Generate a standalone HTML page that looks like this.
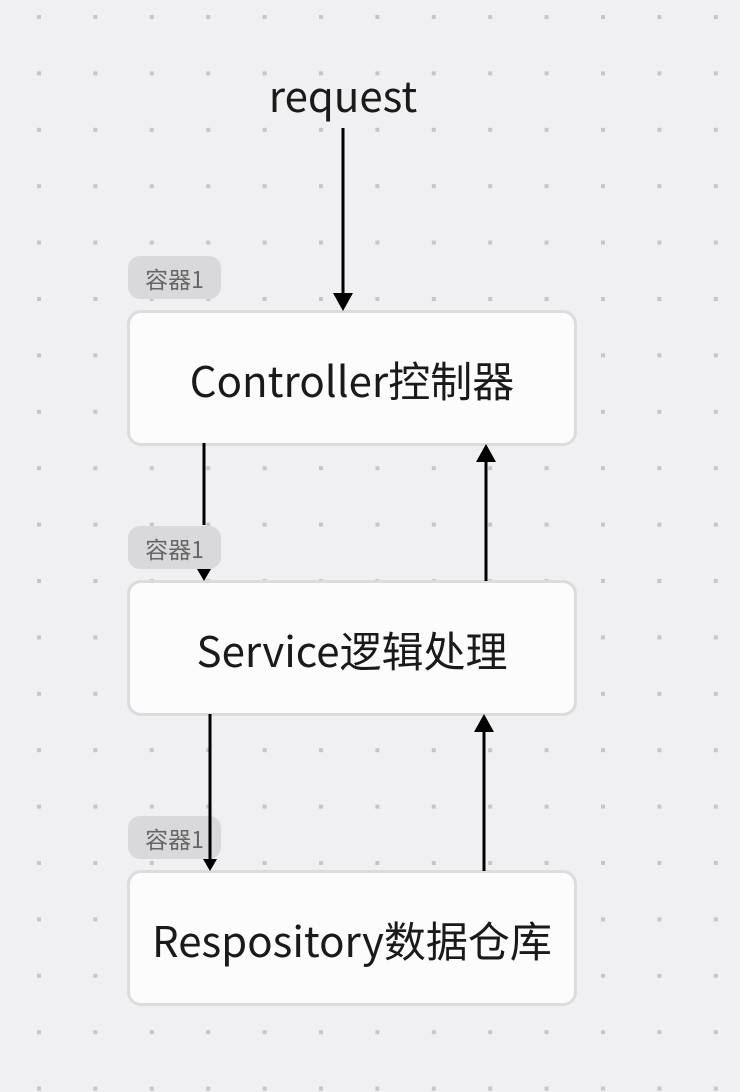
<!DOCTYPE html>
<html><head><meta charset="utf-8"><style>
html,body{margin:0;padding:0;background:#f0f0f2;}
body{width:740px;height:1092px;position:relative;overflow:hidden;font-family:"Liberation Sans","Noto Sans CJK SC",sans-serif;}
svg{position:absolute;left:0;top:0;}
.box{position:absolute;left:127px;width:444px;height:128px;background:#fcfcfc;border:3px solid #dcdcdf;border-radius:14px;display:flex;align-items:center;justify-content:center;font-family:"Noto Sans CJK SC",sans-serif;font-size:42px;color:#1a1a1a;padding-top:2px;}
.tag{position:absolute;left:128px;width:93px;height:43px;background:#d9d9dc;border-radius:12px;font-family:"Noto Sans CJK SC",sans-serif;font-size:23px;color:#666;display:flex;align-items:center;justify-content:center;}
</style></head><body>
<svg width="740" height="1092">
<defs><pattern id="g" x="37" y="15" width="56.4" height="56.4" patternUnits="userSpaceOnUse"><rect x="0" y="0" width="4" height="4" fill="#c6c6c6"/></pattern></defs>
<rect width="740" height="1092" fill="url(#g)"/>
</svg>
<div class="box" style="top:310px">Controller控制器</div>
<div class="box" style="top:580px">Service逻辑处理</div>
<div class="box" style="top:870px">Respository数据仓库</div>
<div class="tag" style="top:256px">容器1</div>
<div class="tag" style="top:526px">容器1</div>
<div class="tag" style="top:816px">容器1</div>
<div style="position:absolute;left:243px;width:200px;top:64px;text-align:center;font-family:'Noto Sans CJK SC',sans-serif;font-size:42px;color:#1a1a1a;">request</div>
<svg width="740" height="1092" style="pointer-events:none">
<g stroke="#000" stroke-width="3" fill="none">
<line x1="343" y1="128" x2="343" y2="300"/>
<line x1="204" y1="443" x2="204" y2="525"/>
<line x1="486" y1="460" x2="486" y2="581"/>
<line x1="210" y1="714" x2="210" y2="860"/>
<line x1="484" y1="730" x2="484" y2="871"/>
</g>
<g fill="#000">
<polygon points="333,293 353,293 343,311"/>
<polygon points="197,569 211,569 204,581"/>
<polygon points="476,462 496,462 486,444"/>
<polygon points="203,859 217,859 210,871"/>
<polygon points="474,732 494,732 484,714"/>
</g>
</svg>
</body></html>
